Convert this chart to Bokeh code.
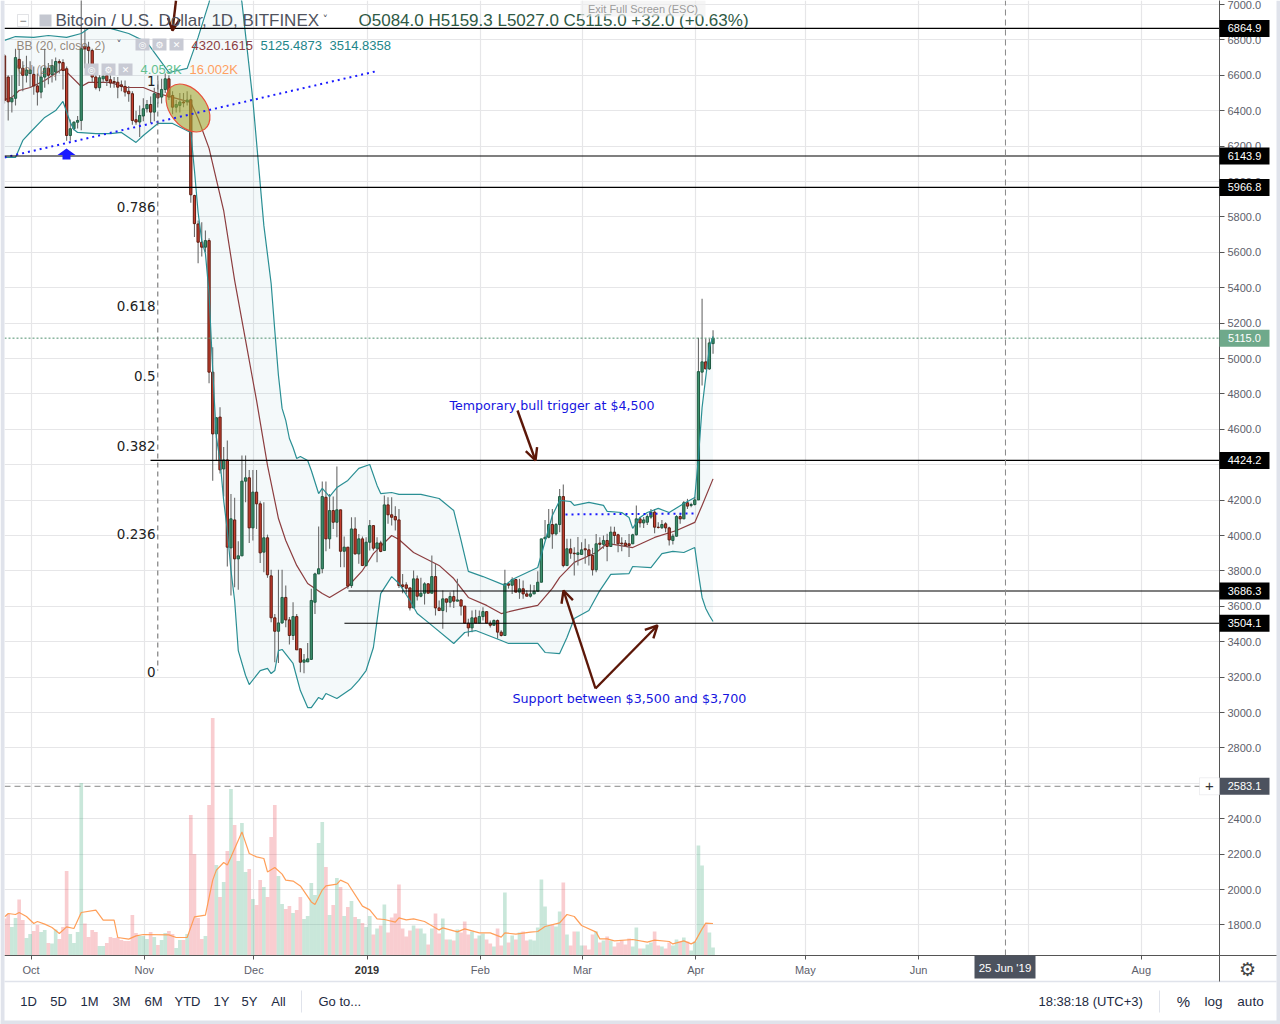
from bokeh.plotting import figure
from bokeh.layouts import column
from bokeh.embed import file_html
from bokeh.resources import INLINE
from bokeh.models import (Range1d, FixedTicker, NumeralTickFormatter, Label,
                          BoxAnnotation, Arrow, OpenHead, ColumnDataSource)

# ---------- data ----------
first_day = -7  # days relative to 1 Oct 2018 of the first candle
opens = [6710,6590,6450,6470,6690,6640,6600,6610,6605,6540,
 6505,6590,6640,6605,6618,6678,6672,6637,6260,6298,
 6335,6345,6763,6760,6740,6590,6530,6580,6598,6575,
 6565,6561,6546,6537,6510,6496,6349,6336,6370,6411,
 6435,6392,6496,6477,6520,6580,6486,6420,6430,6449,
 6450,6462,5921,5760,5657,5629,5666,4923,4574,4669,
 4376,4427,3930,4088,3868,3885,4307,4326,4043,4245,
 4179,3906,3987,3772,3535,3459,3506,3650,3523,3435,
 3542,3360,3284,3286,3300,3623,3783,3812,4216,3981,
 4141,4075,4145,3911,3934,3717,4037,3896,3981,3830,
 3962,4056,3928,3958,3915,4173,4117,4107,4088,3721,
 3721,3704,3591,3755,3657,3674,3727,3674,3768,3591,
 3576,3642,3623,3655,3629,3636,3601,3505,3478,3535,
 3505,3542,3570,3505,3493,3520,3454,3435,3727,3719,
 3751,3680,3699,3670,3657,3670,3685,3736,3981,3990,
 4062,4009,4062,4220,3830,3925,3900,3893,3893,3925,
 3919,3887,3806,3957,3950,3972,3938,4019,4004,3957,
 3957,3953,3953,4004,4094,4071,4075,4104,4132,4047,
 4044,4066,4043,3972,3996,4107,4094,4185,4170,4175,
 4201,4923,4981,4941,5084]
closes = [6458,6450,6470,6700,6640,6600,6630,6630,6540,6505,
 6590,6640,6600,6655,6678,6670,6627,6260,6298,6335,
 6345,6750,6750,6740,6590,6530,6586,6595,6570,6556,
 6558,6533,6537,6505,6496,6345,6336,6373,6411,6435,
 6392,6496,6473,6520,6580,6477,6420,6435,6449,6444,
 6460,5925,5762,5657,5629,5666,4923,4574,4665,4371,
 4427,3934,4094,3868,3885,4307,4326,4043,4245,4179,
 3902,3987,3778,3535,3459,3506,3650,3523,3435,3542,
 3354,3284,3297,3303,3633,3783,3812,4220,3981,4141,
 4075,4145,3911,3934,3714,4037,3896,3981,3830,3962,
 4056,3928,3958,3910,4173,4117,4103,4088,3717,3712,
 3702,3591,3755,3657,3674,3727,3674,3768,3591,3576,
 3642,3623,3655,3629,3636,3601,3505,3478,3535,3505,
 3542,3570,3505,3493,3520,3454,3435,3727,3719,3751,
 3680,3699,3670,3657,3670,3685,3736,3981,3990,4062,
 4009,4062,4220,3830,3925,3900,3897,3902,3919,3919,
 3887,3806,3953,3950,3972,3938,4019,4000,3953,3953,
 3943,3943,4004,4094,4071,4088,4107,4132,4047,4045,
 4062,4043,3975,3996,4107,4094,4185,4166,4175,4201,
 4926,4981,4941,5088,5115]
highs = [6720,6600,6600,6750,6750,6680,6710,6680,6650,6610,
 6650,6750,6670,6690,6700,6690,6690,6650,6350,6340,
 6370,7100,6860,6790,6750,6640,6600,6620,6620,6600,
 6590,6590,6570,6570,6540,6510,6400,6430,6470,6460,
 6480,6530,6570,6580,6610,6600,6510,6460,6500,6500,
 6510,6490,5925,5780,5770,5723,5680,5064,4670,4725,
 4500,4537,4235,4213,3968,4452,4452,4370,4370,4370,
 4194,4188,4005,3806,3557,3806,3806,3717,3540,3623,
 3557,3360,3331,3392,3699,3790,4051,4305,4305,4235,
 4220,4390,4145,3994,3934,4103,4103,4009,3995,3990,
 4088,4056,3990,3970,4226,4216,4216,4165,4150,3783,
 3736,3704,3802,3774,3761,3736,3730,3887,3840,3633,
 3689,3642,3680,3689,3755,3640,3601,3530,3576,3580,
 3576,3595,3570,3520,3525,3525,3465,3806,3730,3764,
 3755,3755,3746,3690,3723,3720,3798,3981,4088,4150,
 4150,4070,4263,4288,3981,3981,3934,3991,3962,3981,
 3950,3930,4009,3990,4000,4010,4051,4050,4010,3990,
 3975,4009,4010,4170,4105,4105,4120,4150,4150,4075,
 4088,4075,4050,4010,4115,4125,4195,4207,4185,4217,
 5117,5337,5111,5111,5159]
lows = [6440,6345,6390,6430,6540,6510,6560,6530,6490,6430,
 6470,6530,6550,6560,6570,6610,6520,6230,6230,6290,
 6300,6290,6640,6660,6560,6520,6510,6560,6540,6530,
 6530,6470,6510,6480,6450,6320,6320,6251,6340,6390,
 6330,6340,6440,6440,6500,6460,6380,6390,6390,6420,
 6430,5880,5686,5538,5576,5600,4860,4310,4424,4350,
 4220,3825,3661,3708,3693,3885,4188,3957,3972,4037,
 3844,3793,3761,3510,3284,3279,3501,3482,3384,3410,
 3354,3228,3222,3286,3300,3557,3783,3787,3911,3925,
 4037,3990,3821,3821,3699,3704,3892,3840,3830,3825,
 3915,3915,3849,3905,3915,4066,4056,4028,3704,3674,
 3670,3576,3591,3633,3651,3610,3674,3674,3548,3576,
 3473,3567,3595,3591,3629,3548,3505,3429,3454,3505,
 3505,3520,3505,3480,3490,3416,3430,3435,3700,3670,
 3680,3642,3642,3657,3650,3670,3685,3736,3981,3985,
 3925,4000,4019,3821,3830,3868,3774,3830,3893,3840,
 3830,3774,3793,3925,3925,3855,3938,3953,3906,3911,
 3935,3878,3953,4000,4045,4043,4060,4095,4013,4040,
 4037,4019,3943,3949,3994,4066,4094,4150,4160,4170,
 4201,4847,4941,4936,5027]
volumes = [18.5,20.7,14.3,18.7,28,17.7,8.7,10.7,12.3,15.2,
 11.7,12.7,6.3,6,13,8.2,14.2,42.2,10.7,6.3,
 11.7,86.3,16,9.2,12.7,11.8,4.7,4.7,6.2,9.2,
 8.7,9,7.7,7.2,7.2,20.2,11.2,9.7,9.7,8.2,
 11.7,9.2,5.2,7.7,11.2,12.2,10.7,3.7,7.7,7.7,
 10.7,70.2,50.7,18.7,8.2,9.7,75.2,118.7,45.2,29.2,
 36.7,52.2,83.2,65.2,47.2,66.2,41.7,43.2,28.2,25.2,
 37.7,34.2,29.2,59.2,75.2,39.7,25.7,23.2,24.7,21.2,
 22.7,29.2,18.2,19.7,36.2,30.2,56.2,66.7,44.2,20.2,
 25.2,38.7,34.2,19.7,24.2,27.2,19.2,18.2,16.2,14.2,
 19.7,10.5,13.5,15,25.5,11.5,19,21,35.5,13.5,
 9.5,12.5,15,13.5,13.5,11,5.5,13.5,21,11,
 18.5,8,8,7.5,13,11.5,17,10.5,12,8.5,
 10,11,8,6,4.5,13.5,5,31.5,6.5,10,
 8,11.5,12,7.5,8,7.5,14,38,24.5,15,
 15.5,14.5,22,36.5,10.5,5,12,12,5,5,
 3,10.5,12,6.5,7.5,9.5,7.5,4.5,6.5,7.5,
 5.5,8.5,4.5,14,3.5,3.5,5.5,6.5,12,5,
 4.5,3.5,6.5,5,8,7,9,7,2.5,7,
 55,45,15.5,11.5,4]

upper_days = [-7,-4,1,5,10,14,16,22,27,32,35,38,43,46,49,54,58,61,64,66,67,68,69,70,71,72,73,74,75,76,77,79,80,82,84,87,90,93,95,96,99,101,107,112,116,118,120,124,130,132,139,143,145,148,149,153,157,158,162,164,165,167,169,172,175,179,182,183,184,185,186,187]
upper_vals = [6797,6819,6814,6825,6814,6836,6865,6865,6836,6786,6701,6616,6639,6814,7012,7450,7012,6458,5752,5424,5158,4904,4718,4650,4548,4497,4435,4446,4435,4424,4367,4237,4266,4220,4271,4311,4379,4401,4283,4237,4243,4232,4232,4209,4141,3972,3797,3768,3718,3751,3819,4113,4198,4192,4170,4187,4170,4136,4130,4102,4040,4102,4130,4153,4130,4181,4215,4441,4723,4893,5062,5125]
lower_days = [-7,-4,-2,0,4,7,9,11,12,13,18,22,25,29,31,35,39,44,45,46,47,48,49,50,51,52,53,54,55,56,57,59,60,63,65,66,67,68,69,72,74,76,77,79,80,81,84,88,90,92,94,96,99,101,104,106,109,116,119,122,129,131,139,141,145,147,149,153,156,159,164,165,170,173,176,179,182,183,184,185,186,187]
lower_vals = [6136,6136,6232,6277,6362,6401,6452,6334,6294,6277,6271,6271,6277,6221,6260,6328,6328,6277,6062,5825,5667,5593,5367,4932,4554,4424,4198,4028,3802,3633,3350,3209,3158,3237,3249,3220,3237,3350,3356,3277,3124,3028,3028,3085,3073,3107,3079,3136,3181,3237,3367,3672,3768,3729,3633,3559,3509,3390,3452,3463,3407,3390,3390,3339,3333,3424,3531,3576,3689,3780,3785,3825,3819,3898,3910,3904,3932,3785,3650,3588,3548,3514]
basis_days = [-7,-5,-3,0,4,9,14,16,22,26,31,35,39,44,46,49,53,56,59,62,65,68,70,73,76,80,82,87,91,94,99,101,105,112,116,120,125,129,135,139,143,145,149,155,158,165,171,177,182,184,187]
basis_vals = [6463,6475,6514,6531,6571,6639,6537,6560,6560,6531,6531,6497,6475,6447,6356,6187,5836,5441,5102,4763,4396,4096,3972,3831,3729,3672,3650,3712,3802,3898,4000,3977,3904,3831,3757,3650,3605,3559,3588,3605,3701,3763,3848,3904,3955,3932,3989,4028,4074,4170,4320]
volma_days = [-7,-6,-4,-3,-1,1,2,4,6,8,10,12,14,18,20,23,24,27,29,31,38,40,43,45,48,50,51,53,54,55,58,60,62,64,65,67,69,70,72,74,77,78,80,81,84,85,87,91,93,95,97,100,101,103,105,108,112,113,117,119,123,126,129,130,133,137,139,141,145,147,149,151,155,156,158,160,165,169,171,175,176,179,181,182,184,185,187]
volma_vals = [19.3,21,20.5,21.5,19.5,16,17,15.7,14,11,14.3,13.5,21.5,22.7,17.7,17.7,9,8.2,9.8,10.5,10.3,9,9,19.3,20.2,37.7,42.7,46.5,45.2,49.3,61.8,51,49.3,48.5,41.8,44,40.7,37.7,37.2,34.8,26.8,25.5,32.7,34.8,35.7,37.7,36,24.7,22.8,18.3,18,16.7,18.8,17.8,18.3,17,12.8,13.8,11.8,13.3,11.3,11.3,9.2,11.3,10.7,11.7,12,14.5,16.3,20.5,19.5,15,11.7,8.3,8.3,7.3,8,6.7,7.7,7,5.8,7.3,5.8,6.7,13.3,16.2,16.0]

level_prices = [6864.9, 6143.9, 5966.8, 4424.2, 3686.3, 3504.1]
level_labels = ["6864.9", "6143.9", "5966.8", "4424.2", "3686.3", "3504.1"]
level_start_days = [-8, -8, -8, 32.7, 86.9, 85.8]
last_price = 5115.0
cross_price = 2583.1
cross_day = 266.8
fib_labels = ["1", "0.786", "0.618", "0.5", "0.382", "0.236", "0"]
fib_prices = [6570, 5854, 5295, 4899, 4503, 4011, 3226]
price_ticks = list(range(1800, 7001, 200))
month_days = [0, 31, 61, 92, 123, 151, 182, 212, 243, 273, 304]
month_labels = ["Oct", "Nov", "Dec", "", "Feb", "Mar", "Apr", "May", "Jun", "", "Aug"]
range_buttons = ["1D", "5D", "1M", "3M", "6M", "YTD", "1Y", "5Y", "All"]
trend1_days, trend1_vals = [-7, 94.6], [6136, 6622]
trend2_days, trend2_vals = [146.6, 181.7], [4119, 4124]

# ---------- scales ----------
W, H, FL, FR, FB = 1280, 1024, 4, 1219, 955
PX_DAY = 3.652
PX_PRICE = 0.177
x0 = (FL - 30.6) / PX_DAY
x1 = (FR - 30.6) / PX_DAY
ytop = 3000 + 712 / PX_PRICE
ybot = 3000 - (FB - 712) / PX_PRICE
BAR_SHIFT = -0.27

def X(px):
    return x0 + (px - FL) / PX_DAY

def Y(py):
    return ytop - py / PX_PRICE

p = figure(width=W, height=H, output_backend="svg", toolbar_location=None,
           x_range=Range1d(x0, x1), y_range=Range1d(ybot, ytop),
           y_axis_location="right", min_border_left=FL, min_border_top=0,
           min_border_right=W - FR, min_border_bottom=H - FB,
           border_fill_color="white", background_fill_color="white",
           outline_line_color=None, frame_align=False)
p.extra_y_ranges = {"vol": Range1d(0, FB * 0.5)}

ax = p.yaxis[0]
ax.ticker = FixedTicker(ticks=price_ticks)
ax.formatter = NumeralTickFormatter(format="0.0")
ax.major_tick_out = 5; ax.major_tick_in = 0; ax.minor_tick_out = 0; ax.minor_tick_in = 0
ax.major_tick_line_color = "#555"; ax.axis_line_color = "#555"
ax.major_label_text_color = "#5d606b"; ax.major_label_text_font_size = "11px"
ax.major_label_text_font = "Liberation Sans"; ax.major_label_standoff = 3

bx = p.xaxis[0]
bx.ticker = FixedTicker(ticks=month_days)
bx.major_label_overrides = {d: s for d, s in zip(month_days, month_labels)}
bx.major_tick_out = 4; bx.major_tick_in = 0; bx.minor_tick_out = 0; bx.minor_tick_in = 0
bx.major_tick_line_color = "#555"; bx.axis_line_color = "#555"
bx.major_label_text_color = "#5d606b"; bx.major_label_text_font_size = "11px"
bx.major_label_text_font = "Liberation Sans"; bx.major_label_standoff = 4

p.xgrid.ticker = FixedTicker(ticks=month_days)
p.ygrid.ticker = FixedTicker(ticks=price_ticks)
p.xgrid.grid_line_color = "#e6e6e8"; p.ygrid.grid_line_color = "#e6e6e8"
p.xgrid.grid_line_width = 1.2; p.ygrid.grid_line_width = 1.2

# ---------- series ----------
days = [first_day + i + BAR_SHIFT for i in range(len(opens))]
assert len(opens) == len(closes) == len(highs) == len(lows) == len(volumes) == 195
up = [c >= o for o, c in zip(opens, closes)]
src = ColumnDataSource(dict(
    x=days, o=opens, c=closes, h=highs, l=lows, v=volumes,
    vc=["#4baf84" if u else "#ea5a63" for u in up],
    fc=["#3b8f6b" if u else "#c43d2e" for u in up],
    lc=["#1f5a42" if u else "#5e1d12" for u in up]))

p.vbar(x="x", top="v", bottom=0, width=1.0, fill_color="vc", fill_alpha=0.3,
       line_color=None, source=src, y_range_name="vol")
p.line([d + BAR_SHIFT for d in volma_days], volma_vals, y_range_name="vol",
       line_color="#ff9a50", line_width=1.2, line_alpha=0.95)

p.patch([d + BAR_SHIFT for d in upper_days] + [d + BAR_SHIFT for d in reversed(lower_days)],
        upper_vals + list(reversed(lower_vals)), fill_color="#2a8f94", fill_alpha=0.05, line_color=None)
p.line([d + BAR_SHIFT for d in basis_days], basis_vals, line_color="#8c3d3f", line_width=1.2)

p.segment(x0="x", x1="x", y0="l", y1="h", line_color="#6b6b6b", line_width=1.1, source=src)
p.vbar(x="x", top="o", bottom="c", width=0.62, fill_color="fc", line_color="lc",
       line_width=1, source=src)

p.line([d + BAR_SHIFT for d in upper_days], upper_vals, line_color="#2a8f94", line_width=1.2)
p.line([d + BAR_SHIFT for d in lower_days], lower_vals, line_color="#2a8f94", line_width=1.2)

# drawings
p.ellipse(x=[X(187.5)], y=[Y(107.5)], width=[54], height=[36], width_units="screen", height_units="screen",
          angle=[-0.9], fill_color="#a3a530", fill_alpha=0.6, line_color="#e8503a", line_width=1.2)
p.line([d + BAR_SHIFT for d in trend1_days], trend1_vals, line_color="#1a1aff", line_width=2, line_dash="2 4")
p.line([d + BAR_SHIFT for d in trend2_days], trend2_vals, line_color="#1a1aff", line_width=2, line_dash="2 4")
p.segment(x0=level_start_days, x1=[x1 + 1] * 6, y0=level_prices, y1=level_prices,
          line_color="#000000", line_width=1.1)
p.line([x0, x1], [last_price, last_price], line_color="#4f8f6f", line_width=1, line_dash="2 2")
p.line([X(157.3), X(157.3)], [Y(75), Y(670)], line_color="#666", line_width=1, line_dash="5 4")
p.line([cross_day, cross_day], [ybot, ytop], line_color="#888", line_width=1, line_dash="6 4")
p.line([x0, x1], [cross_price, cross_price], line_color="#888", line_width=1, line_dash="6 4")
p.patch([X(a) for a in (66, 75, 70, 70, 62, 62, 57)],
        [Y(b) for b in (148, 154.5, 154.5, 159, 159, 154.5, 154.5)], fill_color="#1a1aff", line_color=None)

ARROWS = [((175.5, 0), (172, 30)), ((517, 410), (535, 460)), ((595, 688), (563, 590)), ((595, 688), (657, 625))]
for (a, b) in ARROWS:
    p.add_layout(Arrow(end=OpenHead(line_color="#5c1708", line_width=2.4, size=12),
                       x_start=X(a[0]), y_start=Y(a[1]), x_end=X(b[0]), y_end=Y(b[1]),
                       line_color="#5c1708", line_width=2.4))

# ---------- transparent overlay: page chrome and labels, addressed in page pixels ----------
q = figure(width=W, height=H, output_backend="svg", toolbar_location=None,
           x_range=Range1d(0, W), y_range=Range1d(H, 0), x_axis_location=None, y_axis_location=None,
           min_border_left=0, min_border_right=0, min_border_top=0, min_border_bottom=0,
           background_fill_alpha=0, border_fill_alpha=0, outline_line_color=None,
           margin=(-H, 0, 0, 0), frame_align=False)
q.grid.visible = False

def box(l, t, r, b, fill, alpha=1.0, line=None):
    q.add_layout(BoxAnnotation(left=l, right=r, top=t, bottom=b, fill_color=fill,
                               fill_alpha=alpha, line_color=line, level="annotation", editable=False))

def T(px, py, s, color="#222", size=13, align="left", font="Liberation Sans", style="normal", alpha=1.0):
    q.add_layout(Label(x=px, y=py, text=s, text_color=color, text_alpha=alpha,
                       text_font_size=f"{size}px", text_align=align, text_baseline="middle",
                       text_font=font, text_font_style=style))

# frame strips
LAV = "#e0e3eb"
box(0, 0, 4, H, LAV)
box(1276, 0, W, H, LAV)
box(0, 1020, W, H, LAV)
box(4, 980.3, 1276, 981.7, LAV)
box(FR, FB - 0.5, 1276, FB + 0.5, "#555555")
box(FR - 0.5, FB, FR + 0.5, 981, "#555555")
box(300.5, 990, 301.5, 1012, LAV)
box(1158.5, 990, 1159.5, 1012, LAV)

# fib labels
for s, v in zip(fib_labels, fib_prices):
    T(155, 712 - (v - 3000) * PX_PRICE, s, "#222", 13.5, "right", "DejaVu Sans")

T(449, 405, "Temporary bull trigger at $4,500", "#1515e0", 12.6, font="DejaVu Sans")
T(512, 698, "Support between $3,500 and $3,700", "#1515e0", 12.7, font="DejaVu Sans")

# price tags
for s, v in zip(level_labels, level_prices):
    py = 712 - (v - 3000) * PX_PRICE
    box(FR, py - 8.5, 1269, py + 8.5, "#000000")
    T(1244, py, s, "white", 11, "center")
py = 712 - (last_price - 3000) * PX_PRICE
box(FR, py - 8.5, 1269, py + 8.5, "#6fa98b")
T(1244, py, "5115.0", "white", 11, "center")
py = 712 - (cross_price - 3000) * PX_PRICE
box(FR, py - 8.5, 1269, py + 8.5, "#4c525e")
T(1244, py, "2583.1", "white", 11, "center")
box(1199, py - 8.5, FR, py + 8.5, "white", line="#c9cbd1")
T(1209, py, "+", "#333", 15, "center")

# date tag and axis
box(974, FB, 1035, 978, "#4c525e")
T(1004.5, 967, "25 Jun '19", "white", 11.5, "center")
T(366.5, 969, "2019", "#333", 11, "center", style="bold")
T(1247, 968, "\u2699", "#444", 19, "center", "DejaVu Sans")

# header
box(17, 14, 28, 26, "white", line="#9fa3ad")
T(22.5, 19.5, "\u2212", "#777", 12, "center")
box(39, 14, 51, 26, "#c4c7d0")
T(55, 20, "Bitcoin / U.S. Dollar, 1D, BITFINEX", "#50535e", 17)
T(322, 19, "\u02c5", "#50535e", 11, font="DejaVu Sans")
T(358, 20, "O5084.0  H5159.3  L5027.0  C5115.0  +32.0 (+0.63%)", "#2f5a45", 17)
box(580, 0, 705, 16, "#f0f0f0", alpha=0.65)
T(642.5, 8, "Exit Full Screen (ESC)", "#9c9c9c", 11, "center")

# legends
T(16, 45, "BB (20, close, 2)", "#7a6a5a", 12, alpha=0.8)
T(116, 44, "\u02c5", "#50535e", 10, font="DejaVu Sans")
for l in (135, 152, 169):
    box(l, 38, l + 14, 50, "#c8cad4")
for c, g in zip((142, 159, 176), ("\u25ce", "\u2699", "\u2715")):
    T(c, 44, g, "white", 9, "center", "DejaVu Sans")
T(191, 45, "4320.1615", "#8c3d3f", 13)
T(260, 45, "5125.4873", "#22868a", 13)
T(329, 45, "3514.8358", "#22868a", 13)
T(16, 69, "Vol (20)", "#7a6a5a", 12, alpha=0.7)
for l in (84, 101, 118):
    box(l, 63, l + 14, 75, "#c8cad4")
for c, g in zip((91, 108, 125), ("\u25ce", "\u2699", "\u2715")):
    T(c, 69, g, "white", 9, "center", "DejaVu Sans")
T(140, 69, "4.053K", "#62c08e", 13)
T(189, 69, "16.002K", "#ffa060", 13)

# bottom bar
for c, s in zip((28, 58, 89, 121, 153, 187, 221, 249, 278), range_buttons):
    T(c, 1001, s, "#1e2b42", 13, "center")
T(318, 1001, "Go to...", "#1e2b42", 13)
T(1038, 1001, "18:38:18 (UTC+3)", "#1e2b42", 13)
T(1183, 1001, "%", "#1e2b42", 15, "center")
T(1213, 1001, "log", "#1e2b42", 13.5, "center")
T(1250, 1001, "auto", "#1e2b42", 13.5, "center")

open("out.html", "w").write(file_html(column(p, q), INLINE))
